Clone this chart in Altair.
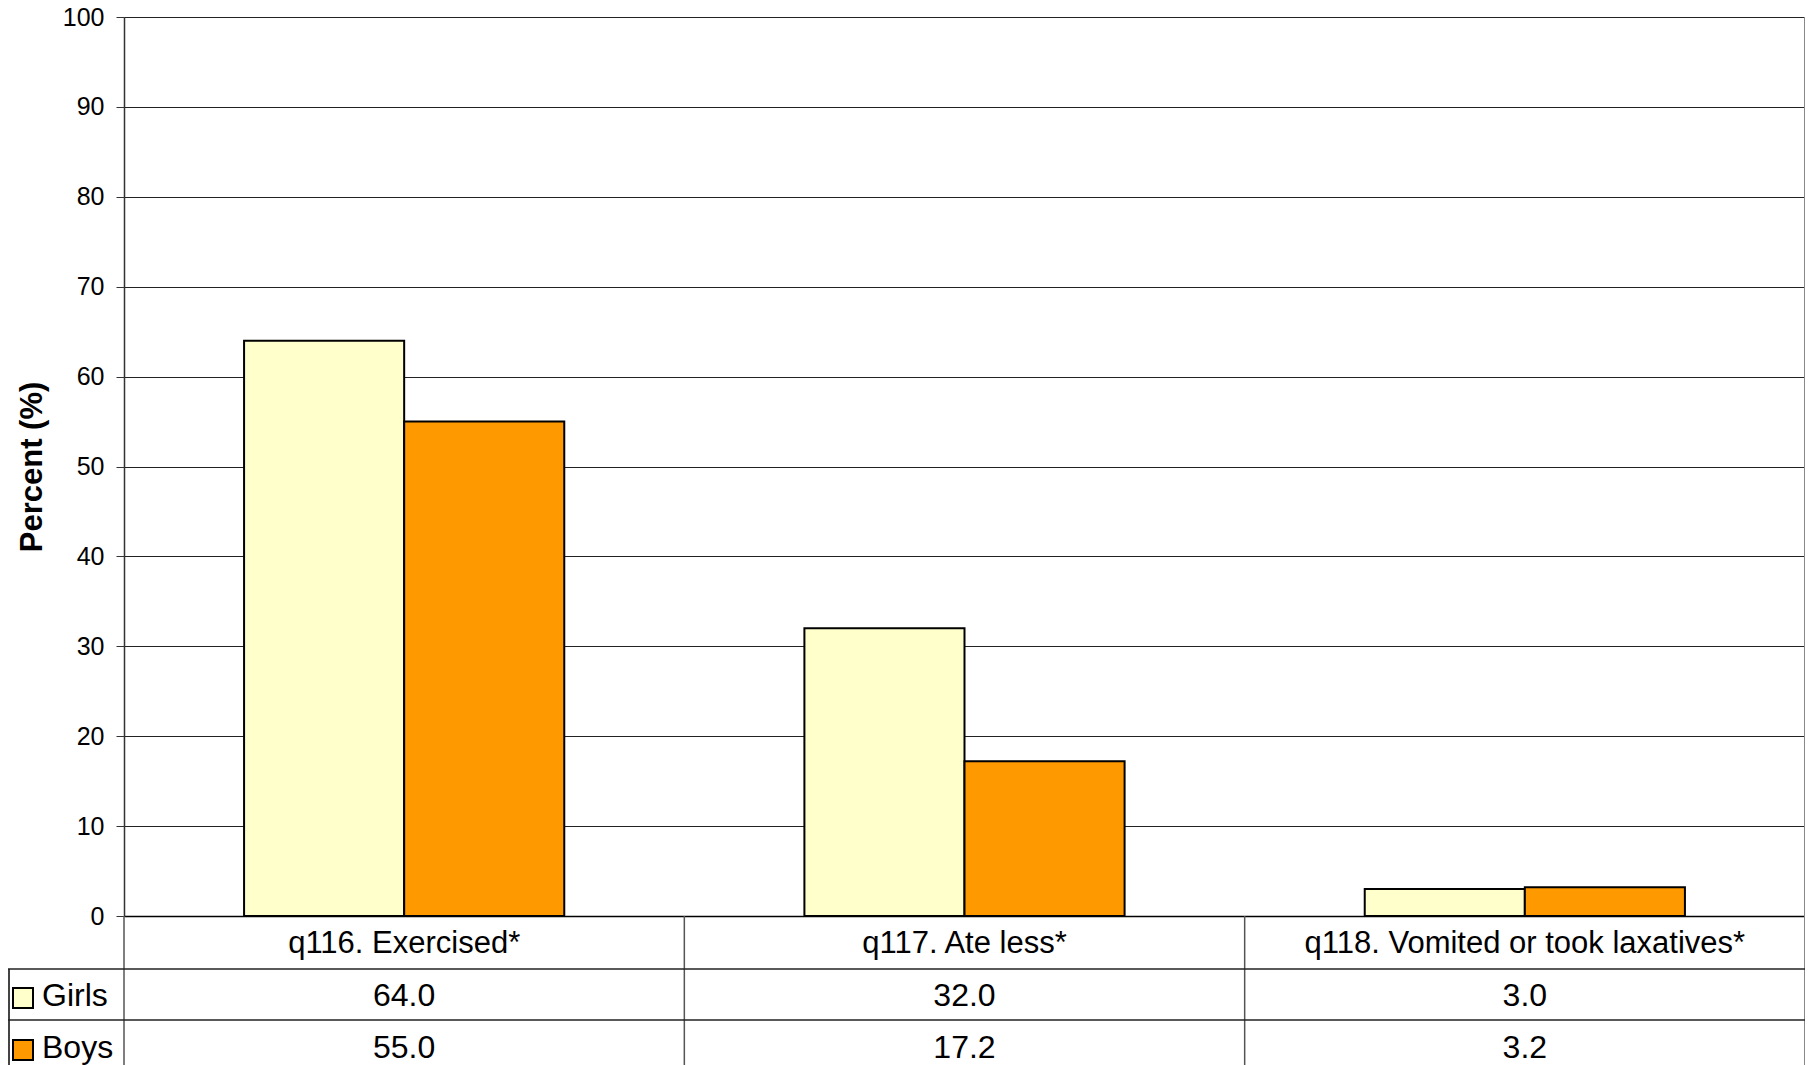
import altair as alt
import pandas as pd

categories = ["q116. Exercised*", "q117. Ate less*", "q118. Vomited or took laxatives*"]
series = ["Girls", "Boys"]
girls = [64.0, 32.0, 3.0]
boys = [55.0, 17.2, 3.2]
colors = ["#FFFFCC", "#FF9900"]
y_ticks = [0, 10, 20, 30, 40, 50, 60, 70, 80, 90, 100]

FONT = "Liberation Sans"
W, H = 1681, 899

rows = []
for i, c in enumerate(categories):
    rows.append({"category": c, "series": "Girls", "value": girls[i]})
    rows.append({"category": c, "series": "Boys", "value": boys[i]})
df = pd.DataFrame(rows)
cat_df = pd.DataFrame({"category": categories})

xscale = alt.Scale(domain=categories, paddingInner=0, paddingOuter=0)

bars = alt.Chart(df).mark_bar(stroke="black", strokeWidth=2).encode(
    x=alt.X("category:N", scale=xscale, sort=categories,
            axis=alt.Axis(title=None, labelAngle=0, ticks=False, grid=False,
                          domain=True, domainColor="black", domainWidth=1.5,
                          labelFont=FONT, labelFontSize=31, labelColor="black",
                          labelLimit=0, labelPadding=27, labelBaseline="middle")),
    xOffset=alt.XOffset("series:N", sort=series,
                        scale=alt.Scale(domain=series, paddingOuter=0.75, paddingInner=0)),
    y=alt.Y("value:Q", scale=alt.Scale(domain=[0, 100], nice=False),
            axis=alt.Axis(title="Percent (%)", values=y_ticks, grid=True,
                          gridColor="#222", gridWidth=1, domainColor="#333",
                          domainWidth=1.5, tickColor="#333", tickSize=8,
                          labelFont=FONT, labelFontSize=25, labelColor="black",
                          labelPadding=12, titleFont=FONT, titleFontSize=31,
                          titleFontWeight="bold", titleColor="black",
                          titlePadding=14)),
    color=alt.Color("series:N", scale=alt.Scale(domain=series, range=colors), legend=None),
)

BOTTOM = H + 170

# table: vertical separators at band starts and end
vlines = alt.Chart(cat_df).mark_rule(color="#555", strokeWidth=1.5).encode(
    x=alt.X("category:N", scale=xscale, sort=categories, bandPosition=0),
    y=alt.value(H), y2=alt.value(BOTTOM),
)
vline_end = alt.Chart(cat_df.tail(1)).mark_rule(color="#888", strokeWidth=2).encode(
    x=alt.X("category:N", scale=xscale, sort=categories, bandPosition=1),
    y=alt.value(0), y2=alt.value(BOTTOM),
)
left_line = alt.Chart(cat_df.head(1)).mark_rule(color="#444", strokeWidth=2).encode(
    x=alt.value(-115), y=alt.value(H + 53), y2=alt.value(BOTTOM),
)

layers = [bars, vlines, vline_end, left_line]

row_top = [H + 53, H + 104]
for yy in row_top:
    layers.append(
        alt.Chart(cat_df.head(1)).mark_rule(color="#222", strokeWidth=1.5).encode(
            x=alt.value(-116), x2=alt.value(W), y=alt.value(yy),
        )
    )

row_y = [H + 80, H + 132]
for si, (s, vals) in enumerate(zip(series, [girls, boys])):
    tdf = pd.DataFrame({"category": categories, "value": vals})
    layers.append(
        alt.Chart(tdf).mark_text(font=FONT, fontSize=32, color="black", baseline="middle").encode(
            x=alt.X("category:N", scale=xscale, sort=categories),
            y=alt.value(row_y[si]),
            text=alt.Text("value:Q", format=".1f"),
        )
    )
    sdf = pd.DataFrame({"series": [s]})
    layers.append(
        alt.Chart(sdf).mark_square(size=400, stroke="black", strokeWidth=2, opacity=1).encode(
            x=alt.value(-101), y=alt.value(row_y[si] + 2),
            fill=alt.Fill("series:N", scale=alt.Scale(domain=series, range=colors), legend=None),
        )
    )
    layers.append(
        alt.Chart(sdf).mark_text(font=FONT, fontSize=32, color="black", align="left", baseline="middle").encode(
            x=alt.value(-82), y=alt.value(row_y[si]),
            text="series:N",
        )
    )

chart = alt.layer(*layers).properties(
    width=W, height=H,
    autosize=alt.AutoSizeParams(type="none"),
    padding={"left": 116, "top": 9, "right": 0, "bottom": 150},
).configure_view(stroke=None).configure(background="white")

chart.save("out.html", embed_options={"renderer": "svg", "actions": False})
